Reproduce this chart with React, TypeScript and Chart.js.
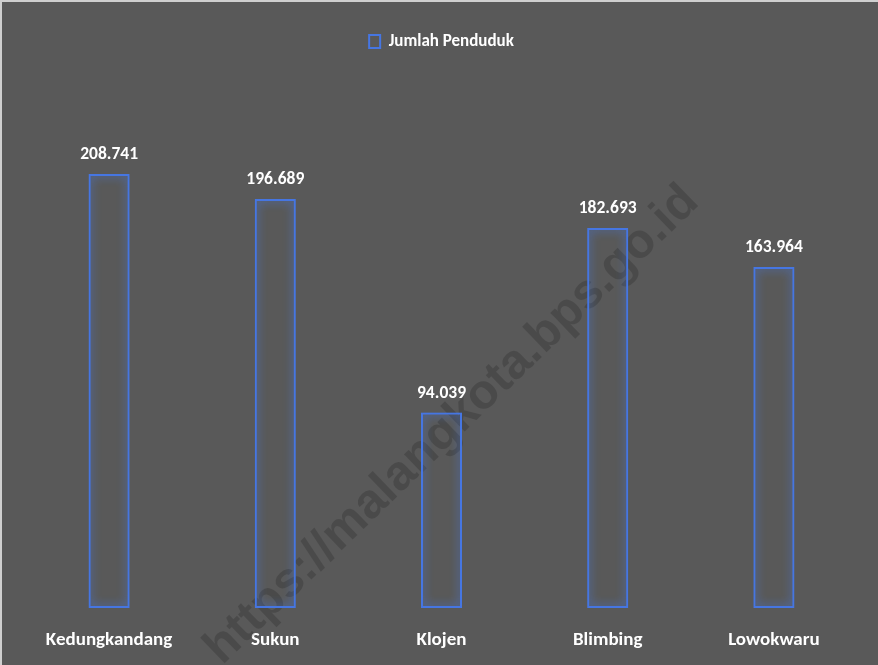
import React, { useEffect, useRef } from "react";
import { Chart, registerables } from "chart.js";

Chart.register(...registerables);

const categories = ["Kedungkandang", "Sukun", "Klojen", "Blimbing", "Lowokwaru"];
const populationValues = [208741, 196689, 94039, 182693, 163964];
const seriesLabel = "Jumlah Penduduk";
const watermarkText = "https://malangkota.bps.go.id";

const FONT = "Carlito, Lato, 'Open Sans', sans-serif";
const BG = "#595959";
const BLUE = "#4676e2";

function formatID(v: number): string {
  return v.toLocaleString("de-DE");
}

const backgroundPlugin = {
  id: "bgPlugin",
  beforeDraw(chart: any) {
    const { ctx, width, height } = chart;
    ctx.save();
    ctx.fillStyle = BG;
    ctx.fillRect(0, 0, width, height);
    ctx.fillStyle = "#cfcfcf";
    ctx.fillRect(0, 0, width, 2);
    ctx.fillRect(0, 0, 2, height);
    ctx.restore();
  },
  beforeDatasetsDraw(chart: any) {
    const { ctx } = chart;
    ctx.save();
    ctx.translate(452, 425);
    ctx.rotate((-44 * Math.PI) / 180);
    ctx.font = "bold 40px 'Liberation Sans', Arial, sans-serif";
    const w = ctx.measureText(watermarkText).width;
    const size = (40 * 665) / w;
    ctx.font = `bold ${size}px 'Liberation Sans', Arial, sans-serif`;
    ctx.fillStyle = "rgba(0,0,0,0.17)";
    ctx.textAlign = "center";
    ctx.textBaseline = "middle";
    ctx.fillText(watermarkText, 0, 0);
    ctx.restore();
  },
};

const glowPlugin = {
  id: "glowPlugin",
  beforeDatasetDraw(chart: any) {
    const { ctx } = chart;
    ctx.save();
    ctx.shadowColor = "rgba(70,130,255,1)";
    ctx.shadowBlur = 10;
  },
  afterDatasetDraw(chart: any) {
    chart.ctx.restore();
  },
};

const valueLabelPlugin = {
  id: "valueLabels",
  afterDatasetsDraw(chart: any) {
    const { ctx } = chart;
    const meta = chart.getDatasetMeta(0);
    const data = chart.data.datasets[0].data as number[];
    ctx.save();
    ctx.fillStyle = "#ffffff";
    ctx.font = `bold 17.5px ${FONT}`;
    ctx.textAlign = "center";
    ctx.textBaseline = "middle";
    meta.data.forEach((el: any, i: number) => {
      ctx.fillText(formatID(data[i]), el.x, el.y - 19);
    });
    ctx.restore();
  },
};

export default function App() {
  const canvasRef = useRef<HTMLCanvasElement | null>(null);

  useEffect(() => {
    document.body.style.margin = "0";
    if (!canvasRef.current) return;
    const chart = new Chart(canvasRef.current, {
      type: "bar",
      data: {
        labels: categories,
        datasets: [
          {
            label: seriesLabel,
            data: populationValues,
            backgroundColor: "rgba(0,0,0,0)",
            borderColor: BLUE,
            borderWidth: 2,
            borderSkipped: false,
            barPercentage: 0.247,
            categoryPercentage: 1,
          },
        ],
      },
      options: {
        animation: false,
        responsive: false,
        maintainAspectRatio: false,
        devicePixelRatio: 1,
        layout: { padding: { left: 26, right: 21, top: 23, bottom: 0 } },
        plugins: {
          legend: {
            display: true,
            position: "top",
            labels: {
              color: "#ffffff",
              boxWidth: 11,
              boxHeight: 13,
              padding: 10,
              font: { family: FONT, size: 17, weight: "bold" },
            },
          },
          tooltip: { enabled: false },
        },
        scales: {
          x: {
            grid: { display: false },
            border: { display: false },
            afterFit(scale: any) {
              scale.height = 57;
            },
            ticks: {
              color: "#ffffff",
              padding: 13,
              font: { family: FONT, size: 19, weight: "bold" },
            },
          },
          y: {
            display: false,
            min: 0,
            max: 263500,
          },
        },
      },
      plugins: [backgroundPlugin, glowPlugin, valueLabelPlugin],
    });
    return () => chart.destroy();
  }, []);

  return (
    <div style={{ width: 878, height: 665, position: "relative" }}>
      <canvas ref={canvasRef} width={878} height={665} style={{ display: "block", width: 878, height: 665 }} />
    </div>
  );
}
